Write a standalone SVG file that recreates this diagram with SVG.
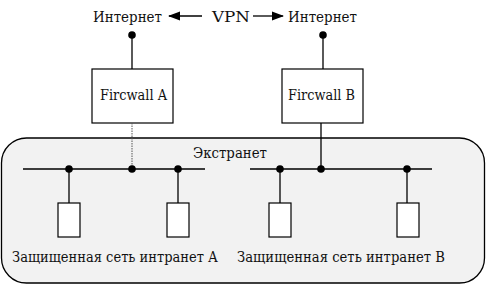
<svg xmlns="http://www.w3.org/2000/svg" width="487" height="285" viewBox="0 0 487 285">
<defs>
<marker id="ah" viewBox="0 0 12 10" refX="11" refY="5" markerWidth="12" markerHeight="10" markerUnits="userSpaceOnUse" orient="auto">
<path d="M0,0.5 L12,5 L0,9.5 z" fill="#000"/>
</marker>
<style>
.ln{stroke:#000;stroke-width:1.3;fill:none}
.thin{stroke:#555;stroke-width:1;fill:none}
.box{fill:#fff;stroke:#000;stroke-width:1.2}
.dot{fill:#000}
.t{font-family:"DejaVu Serif","Liberation Serif",serif;font-size:15px;fill:#111}
</style>
</defs>
<rect width="487" height="285" fill="#fff"/>
<g id="extranet">
<rect x="1.5" y="138" width="483" height="145" rx="25" ry="25" fill="#f2f2f2" stroke="#000" stroke-width="1.3"/>
<text class="t" x="193" y="158" textLength="74" lengthAdjust="spacingAndGlyphs">Экстранет</text>
</g>
<g id="internet-a"><text class="t" x="93" y="22" textLength="69" lengthAdjust="spacingAndGlyphs">Интернет</text></g>
<g id="vpn"><text class="t" x="212" y="22" textLength="38" lengthAdjust="spacingAndGlyphs">VPN</text></g>
<g id="internet-b"><text class="t" x="288" y="22" textLength="69" lengthAdjust="spacingAndGlyphs">Интернет</text></g>
<g id="firewall-a">
<rect class="box" x="92" y="69" width="81" height="54"/>
<text class="t" x="100" y="100" textLength="67" lengthAdjust="spacingAndGlyphs">Fircwall A</text>
</g>
<g id="firewall-b">
<rect class="box" x="282" y="69" width="81" height="54"/>
<text class="t" x="288" y="100" textLength="67" lengthAdjust="spacingAndGlyphs">Fircwall B</text>
</g>
<g id="host-a1"><rect class="box" x="58" y="203" width="22" height="34"/></g>
<g id="host-a2"><rect class="box" x="167" y="203" width="22" height="34"/></g>
<g id="host-b1"><rect class="box" x="269" y="203" width="22" height="34"/></g>
<g id="host-b2"><rect class="box" x="397" y="203" width="22" height="34"/></g>
<g id="label-a"><text class="t" x="12" y="262" textLength="206" lengthAdjust="spacingAndGlyphs">Защищенная сеть интранет А</text></g>
<g id="label-b"><text class="t" x="237" y="262" textLength="208" lengthAdjust="spacingAndGlyphs">Защищенная сеть интранет В</text></g>
<g id="connectors">
<line class="ln" x1="202" y1="16" x2="169" y2="16" marker-end="url(#ah)"/>
<line class="ln" x1="253" y1="16" x2="283" y2="16" marker-end="url(#ah)"/>
<line class="ln" x1="132" y1="35" x2="132" y2="69"/>
<line class="ln" x1="323" y1="35" x2="323" y2="69"/>
<circle class="dot" cx="132" cy="35" r="3.8"/>
<circle class="dot" cx="323" cy="35" r="3.8"/>
<line class="thin" x1="132" y1="123" x2="132" y2="169" stroke-dasharray="1.5,1"/>
<line class="ln" x1="321" y1="123" x2="321" y2="169"/>
<line class="ln" x1="23" y1="169" x2="205" y2="169"/>
<line class="ln" x1="250" y1="169" x2="432" y2="169"/>
<line class="ln" x1="69" y1="169" x2="69" y2="203"/>
<line class="ln" x1="178" y1="169" x2="178" y2="203"/>
<line class="ln" x1="280" y1="169" x2="280" y2="203"/>
<line class="ln" x1="407" y1="169" x2="407" y2="203"/>
<circle class="dot" cx="69" cy="169" r="3.8"/>
<circle class="dot" cx="132" cy="169" r="3.8"/>
<circle class="dot" cx="178" cy="169" r="3.8"/>
<circle class="dot" cx="280" cy="169" r="3.8"/>
<circle class="dot" cx="321" cy="169" r="3.8"/>
<circle class="dot" cx="407" cy="169" r="3.8"/>
</g>
</svg>
